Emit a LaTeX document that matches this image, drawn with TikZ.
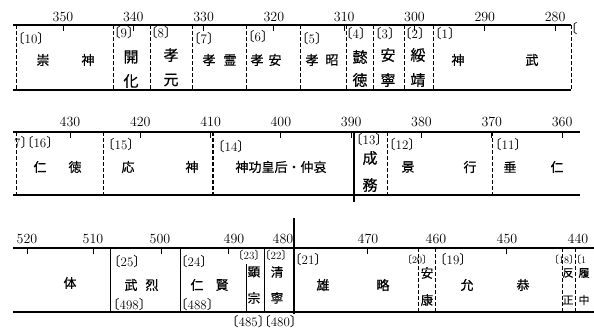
\documentclass[tikz,border=0pt]{standalone}
\usepackage{fontspec}
\newfontfamily\cjk[FakeBold=0.6]{Noto Sans CJK JP}
\newfontfamily\cjkb{Noto Sans CJK JP}
\newcommand\lbr[1]{\hbox to 0.5em{\hss\cjkb 〔}#1\hbox to 0.5em{\cjkb 〕\hss}}
\newcommand\lop{\hbox to 0.5em{\hss\cjkb 〔}}
\newcommand\lcl{\hbox to 0.5em{\cjkb 〕\hss}}
\tikzset{
  axisline/.style={line width=1.1pt},
  sep/.style={line width=1pt, dash pattern=on 4pt off 2pt},
  thicksep/.style={line width=1.4pt, dash pattern=on 4pt off 2pt},
  solidsep/.style={line width=1pt},
  tickmark/.style={line width=0.9pt},
  yr/.style={font=\fontsize{14}{14}\selectfont, inner sep=0pt},
  lab/.style={font=\fontsize{13}{13}\selectfont, inner sep=0pt, anchor=west},
  slab/.style={font=\fontsize{10}{10}\selectfont, inner sep=0pt, anchor=west},
  mlab/.style={font=\fontsize{11}{11}\selectfont, inner sep=0pt, anchor=west},
  nm/.style={font=\cjk\fontsize{13}{13}\selectfont, inner sep=0pt},
  vn/.style={font=\cjk\fontsize{15}{15}\selectfont, inner sep=0pt},
  sn/.style={font=\cjk\fontsize{12.5}{12.5}\selectfont, inner sep=0pt},
  tn/.style={font=\cjk\fontsize{11}{11}\selectfont, inner sep=0pt},
}
\begin{document}
\begin{tikzpicture}[x=1pt,y=-1pt]
\useasboundingbox (0,0) rectangle (594,329);
\clip (0,0) rectangle (594,329);

% ---------------- Row 1 ----------------
\coordinate (a1l) at (13,25); \coordinate (a1r) at (571,25);
\coordinate (b1l) at (13,90); \coordinate (b1r) at (571,90);
\draw[axisline] (a1l) -- (a1r);
\draw[axisline] (b1l) -- (b1r);
\foreach \v in {350,340,...,280}{
  \pgfmathsetmacro{\xx}{63+(350-\v)*7.03}
  \node[yr] (y\v) at (\xx,17) {\v};
  \coordinate (t\v a) at (\xx,25); \coordinate (t\v b) at (\xx,31);
  \draw[tickmark] (t\v a) -- (t\v b);
}
\foreach \xx [count=\i] in {16,113,150,192,246,300,346,373,404,433,571}{
  \coordinate (s1t\i) at (\xx,25); \coordinate (s1b\i) at (\xx,90);
  \draw[sep] (s1t\i) -- (s1b\i);
}
\node[lab] (l10) at (18,39) {\lbr{10}};
\node[lab] (l9) at (114,33) {\lbr{9}};
\node[lab] (l8) at (151,33) {\lbr{8}};
\node[lab] (l7) at (194,39) {\lbr{7}};
\node[lab] (l6) at (248,37) {\lbr{6}};
\node[lab] (l5) at (302,39) {\lbr{5}};
\node[lab] (l4) at (346,34) {\lbr{4}};
\node[lab] (l3) at (375,34) {\lbr{3}};
\node[lab] (l2) at (405,34) {\lbr{2}};
\node[lab] (l1) at (435,34) {\lbr{1}};
\node[lab] (lfr) at (571,29) {\lop};

\node[nm] (n10a) at (43,60) {崇};
\node[nm] (n10b) at (88,60) {神};
\node[vn] (n9a) at (131,57) {開};
\node[vn] (n9b) at (131,81) {化};
\node[vn] (n8a) at (171,55) {孝};
\node[vn] (n8b) at (171,80) {元};
\node[nm] (n7a) at (209,60) {孝};
\node[nm] (n7b) at (230,60) {霊};
\node[nm] (n6a) at (257,60) {孝};
\node[nm] (n6b) at (275,60) {安};
\node[nm] (n5a) at (312,60) {孝};
\node[nm] (n5b) at (332,60) {昭};
\node[vn] (n4a) at (360,57) {懿};
\node[vn] (n4b) at (360,80) {徳};
\node[vn] (n3a) at (388,55) {安};
\node[vn] (n3b) at (388,80) {寧};
\node[vn] (n2a) at (418,55) {綏};
\node[vn] (n2b) at (418,80) {靖};
\node[nm] (n1a) at (458,60) {神};
\node[nm] (n1b) at (532,60) {武};

% ---------------- Row 2 ----------------
\coordinate (a2l) at (13,132); \coordinate (a2r) at (580,132);
\coordinate (b2l) at (13,195); \coordinate (b2r) at (580,195);
\draw[axisline] (a2l) -- (a2r);
\draw[axisline] (b2l) -- (b2r);
\foreach \v in {430,420,...,360}{
  \pgfmathsetmacro{\xx}{70+(430-\v)*7.03}
  \node[yr] (z\v) at (\xx,122) {\v};
  \coordinate (u\v a) at (\xx,132); \coordinate (u\v b) at (\xx,138);
  \draw[tickmark] (u\v a) -- (u\v b);
}
\foreach \xx [count=\i] in {16,103,387,492}{
  \coordinate (s2t\i) at (\xx,132); \coordinate (s2b\i) at (\xx,195);
  \draw[sep] (s2t\i) -- (s2b\i);
}
\coordinate (s2tk) at (213,132); \coordinate (s2bk) at (213,195);
\draw[thicksep] (s2tk) -- (s2bk);
\coordinate (s2ts) at (354,132); \coordinate (s2bs) at (354,202);
\draw[solidsep, line width=1.2pt] (s2ts) -- (s2bs);

\node[lab] (l16) at (14,143) {7\lcl\lbr{16}};
\node[lab] (l15) at (108,145) {\lbr{15}};
\node[lab] (l14) at (218,147) {\lbr{14}};
\node[lab] (l13) at (356,140) {\lbr{13}};
\node[lab] (l12) at (389,145) {\lbr{12}};
\node[lab] (l11) at (495,145) {\lbr{11}};
\node[nm] (n16a) at (40,167) {仁};
\node[nm] (n16b) at (75,167) {徳};
\node[nm] (n15a) at (128,167) {応};
\node[nm] (n15b) at (192,167) {神};
\node[nm] (n14) at (281,167) {神功皇后・仲哀};
\node[vn] (n13a) at (370,158) {成};
\node[vn] (n13b) at (370,185) {務};
\node[nm] (n12a) at (408,167) {景};
\node[nm] (n12b) at (470,167) {行};
\node[nm] (n11a) at (510,167) {垂};
\node[nm] (n11b) at (557,167) {仁};

% ---------------- Row 3 ----------------
\coordinate (a3l) at (13,248); \coordinate (a3r) at (594,248);
\coordinate (b3l) at (13,312); \coordinate (b3r) at (594,312);
\draw[axisline] (a3l) -- (a3r);
\draw[axisline] (b3l) -- (b3r);
\foreach \v/\xx in {520/27,510/93,500/160,490/234,480/283,470/368,460/436,450/507,440/578}{
  \node[yr] (w\v) at (\xx,239) {\v};
}
\foreach \xx [count=\i] in {27,93,161,228,367,506}{
  \coordinate (v\i a) at (\xx,248); \coordinate (v\i b) at (\xx,254);
  \draw[tickmark] (v\i a) -- (v\i b);
}
\foreach \xx [count=\i] in {110,180,264}{
  \coordinate (s3t\i) at (\xx,248); \coordinate (s3b\i) at (\xx,312);
  \draw[solidsep] (s3t\i) -- (s3b\i);
}
\coordinate (s3ta) at (246,264); \coordinate (s3ba) at (246,312);
\draw[solidsep] (s3ta) -- (s3ba);
\coordinate (s3tt) at (294,218); \coordinate (s3bt) at (294,314);
\draw[solidsep, line width=1.2pt] (s3tt) -- (s3bt);
\foreach \xx [count=\i] in {418,435,562,575}{
  \coordinate (d3t\i) at (\xx,248); \coordinate (d3b\i) at (\xx,312);
  \draw[sep] (d3t\i) -- (d3b\i);
}

\node[nm] (n26) at (70,283) {体};
\node[lab] (l25) at (114,262) {\lbr{25}};
\node[nm] (n25a) at (131,285) {武};
\node[nm] (n25b) at (152,285) {烈};
\node[lab] (y498) at (113,305) {\lbr{498}};
\node[lab] (l24) at (181,262) {\lbr{24}};
\node[nm] (n24a) at (197,285) {仁};
\node[nm] (n24b) at (222,285) {賢};
\node[lab] (y488) at (181,305) {\lbr{488}};
\node[mlab] (l23) at (238,255) {\lbr{23}};
\node[sn] (n23a) at (254,272) {顕};
\node[sn] (n23b) at (254,298) {宗};
\node[mlab] (l22) at (265,255) {\lbr{22}};
\node[sn] (n22a) at (277,272) {清};
\node[sn] (n22b) at (277,298) {寧};
\node[lab] (y485) at (232,322) {\lbr{485}\lbr{480}};
\node[lab] (l21) at (295,260) {\lbr{21}};
\node[nm] (n21a) at (323,285) {雄};
\node[nm] (n21b) at (383,285) {略};
\node[slab] (l20) at (407,260) {\lbr{20}};
\node[sn] (n20a) at (427,273) {安};
\node[sn] (n20b) at (427,300) {康};
\node[lab] (l19) at (440,260) {\lbr{19}};
\node[nm] (n19a) at (467,285) {允};
\node[nm] (n19b) at (523,285) {恭};
\node[slab] (l18) at (554,260) {\lbr{18}};
\node[tn] (n18a) at (568,273) {反};
\node[tn] (n18b) at (568,300) {正};
\node[slab] (l17) at (576,260) {\lop 1};
\node[tn] (n17a) at (584,273) {履};
\node[tn] (n17b) at (584,300) {中};
\end{tikzpicture}
\end{document}
